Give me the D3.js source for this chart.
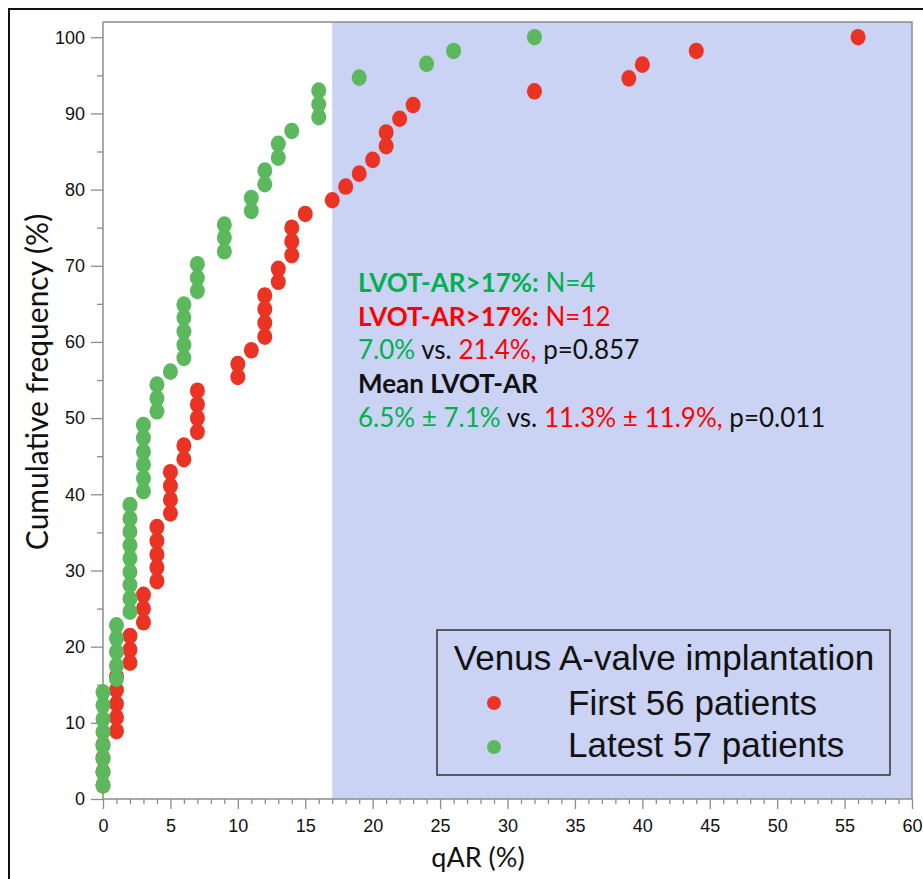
<!DOCTYPE html>
<html>
<head>
<meta charset="utf-8">
<script src="https://cdn.jsdelivr.net/npm/d3@7/dist/d3.min.js"></script>
<style>
body { margin: 0; background: #fff; }
</style>
</head>
<body>
<svg id="chart" width="923" height="879"></svg>
<script>
// first 56 patients: qAR per patient and cumulative frequency (%)
var redQAR = [0,0,0,0,1,1,1,1,1,2,2,2,3,3,3,4,4,4,4,4,5,5,5,5,6,6,7,7,7,7,
	10,10,11,12,12,12,12,13,13,14,14,14,15,17,18,19,20,21,21,22,23,32,39,40,44,56];
var redCum = [1.8,3.6,5.4,7.1,8.9,10.7,12.5,14.3,16.1,17.9,19.6,21.4,23.2,25.0,26.8,
	28.6,30.4,32.1,33.9,35.7,37.5,39.3,41.1,42.9,44.6,46.4,48.2,50.0,51.8,53.6,55.4,57.1,
	58.9,60.7,62.5,64.3,66.1,67.9,69.6,71.4,73.2,75.0,76.8,78.6,80.4,82.1,83.9,85.7,87.5,
	89.3,91.1,92.9,94.6,96.4,98.2,100];

// latest 57 patients
var greenQAR = [0,0,0,0,0,0,0,0,1,1,1,1,1,2,2,2,2,2,2,2,2,2,3,3,3,3,3,3,4,4,4,5,
	6,6,6,6,6,7,7,7,9,9,9,11,11,12,12,13,13,14,16,16,16,19,24,26,32];
var greenCum = [1.8,3.5,5.3,7.0,8.8,10.5,12.3,14.0,15.8,17.5,19.3,21.1,22.8,24.6,26.3,
	28.1,29.8,31.6,33.3,35.1,36.8,38.6,40.4,42.1,43.9,45.6,47.4,49.1,50.9,52.6,54.4,56.1,
	57.9,59.6,61.4,63.2,64.9,66.7,68.4,70.2,71.9,73.7,75.4,77.2,78.9,80.7,82.5,84.2,86.0,
	87.7,89.5,91.2,93.0,94.7,96.5,98.2,100];

var xTicks = [0,5,10,15,20,25,30,35,40,45,50,55,60];
var xMinor = d3.range(0, 61, 1);
var yTicks = [0,10,20,30,40,50,60,70,80,90,100];
var yMinor = [5,15,25,35,45,55,65,75,85,95];
var cutoff = 17;

var legendTitle = 'Venus A-valve implantation';
var legendLabels = ['First 56 patients', 'Latest 57 patients'];

var redColor = '#ea3323';
var greenColor = '#5cb85c';
var textGreen = '#00b050';
var textRed = '#ff0000';

var svg = d3.select('#chart');

var x = d3.scaleLinear().domain([0, 60]).range([103, 912]);
var y = d3.scaleLinear().domain([0, 102]).range([799, 22]);

// outer frame of the figure
svg.append('rect')
  .attr('x', 9).attr('y', 9)
  .attr('width', 940).attr('height', 900)
  .attr('fill', 'none')
  .attr('stroke', '#111')
  .attr('stroke-width', 2);

// shaded region qAR > 17
svg.append('rect')
  .attr('x', x(cutoff))
  .attr('y', y(102))
  .attr('width', x(60) - x(cutoff))
  .attr('height', y(0) - y(102))
  .attr('fill', '#cad3f3');

// plot frame (top, right)
svg.append('path')
  .attr('d', 'M' + x(0) + ',' + y(102) + 'H' + x(60) + 'V' + y(0))
  .attr('fill', 'none')
  .attr('stroke', '#8c8c8c')
  .attr('stroke-width', 1.5);

// y axis
svg.append('g')
  .attr('transform', 'translate(' + x(0) + ',0)')
  .call(d3.axisLeft(y).tickValues(yTicks).tickSize(12).tickPadding(6));
svg.append('g')
  .attr('transform', 'translate(' + x(0) + ',0)')
  .call(d3.axisLeft(y).tickValues(yMinor).tickSize(6).tickFormat(''));

// x axis
svg.append('g')
  .attr('transform', 'translate(0,' + y(0) + ')')
  .call(d3.axisBottom(x).tickValues(xTicks).tickSize(10).tickPadding(10));
svg.append('g')
  .attr('transform', 'translate(0,' + y(0) + ')')
  .call(d3.axisBottom(x).tickValues(xMinor.filter(function(d) { return d % 5 != 0; })).tickSize(5).tickFormat(''));

svg.selectAll('.domain').remove();
svg.selectAll('.tick line').attr('stroke', '#8c8c8c').attr('stroke-width', 1.3);
svg.selectAll('.tick text')
  .attr('fill', '#111')
  .style('font-family', '"Liberation Sans", Arial, sans-serif')
  .style('font-size', '18px');

svg.append('line')
  .attr('x1', x(0)).attr('x2', x(0))
  .attr('y1', y(0)).attr('y2', y(102))
  .attr('stroke', '#8c8c8c').attr('stroke-width', 1.5);
svg.append('line')
  .attr('x1', x(0)).attr('x2', x(60))
  .attr('y1', y(0)).attr('y2', y(0))
  .attr('stroke', '#8c8c8c').attr('stroke-width', 1.5);

// axis titles
svg.append('text')
  .attr('transform', 'translate(48,382) rotate(-90)')
  .attr('text-anchor', 'middle')
  .style('font-family', 'Lato, sans-serif')
  .style('font-size', '30px')
  .attr('fill', '#111')
  .text('Cumulative frequency (%)');

svg.append('text')
  .attr('x', 478).attr('y', 867)
  .attr('text-anchor', 'middle')
  .style('font-family', 'Lato, sans-serif')
  .style('font-size', '27px')
  .attr('fill', '#111')
  .text('qAR (%)');

// dots
svg.append('g').selectAll('ellipse')
  .data(redQAR)
  .enter().append('ellipse')
  .attr('cx', function(d) { return x(d); })
  .attr('cy', function(d, i) { return y(redCum[i]); })
  .attr('rx', 7.5).attr('ry', 8.3)
  .attr('fill', redColor);

svg.append('g').selectAll('ellipse')
  .data(greenQAR)
  .enter().append('ellipse')
  .attr('cx', function(d) { return x(d); })
  .attr('cy', function(d, i) { return y(greenCum[i]); })
  .attr('rx', 7.5).attr('ry', 8.3)
  .attr('fill', greenColor);

// annotation
var notes = [
	[['LVOT-AR>17%:', textGreen, 'bold'], [' N=4', textGreen, 'normal']],
	[['LVOT-AR>17%:', textRed, 'bold'], [' N=12', textRed, 'normal']],
	[['7.0%', textGreen, 'normal'], [' vs. ', '#111', 'normal'], ['21.4%,', textRed, 'normal'], [' p=0.857', '#111', 'normal']],
	[['Mean LVOT-AR', '#111', 'bold']],
	[['6.5% \u00b1 7.1%', textGreen, 'normal'], [' vs. ', '#111', 'normal'], ['11.3% \u00b1 11.9%,', textRed, 'normal'], [' p=0.011', '#111', 'normal']]
];

var noteText = svg.append('g')
  .style('font-family', 'Lato, sans-serif')
  .style('font-size', '26px');

notes.forEach(function(line, i) {
	var t = noteText.append('text')
	  .attr('x', 358)
	  .attr('y', 292 + i * 33.7)
	  .attr('xml:space', 'preserve');
	line.forEach(function(p) {
		t.append('tspan')
		  .attr('fill', p[1])
		  .style('font-weight', p[2])
		  .text(p[0]);
	});
});

// legend
var legend = svg.append('g')
  .style('font-family', '"Liberation Sans", Arial, sans-serif')
  .style('font-size', '35px');

legend.append('rect')
  .attr('x', 437).attr('y', 630)
  .attr('width', 453).attr('height', 145)
  .attr('fill', 'none')
  .attr('stroke', '#333')
  .attr('stroke-width', 1.5);

legend.append('text')
  .attr('x', 664).attr('y', 670)
  .attr('text-anchor', 'middle')
  .attr('fill', '#111')
  .text(legendTitle);

legend.selectAll('.item')
  .data(legendLabels)
  .enter().append('circle')
  .attr('cx', 494)
  .attr('cy', function(d, i) { return 703 + i * 44; })
  .attr('r', 7)
  .attr('fill', function(d, i) { return i == 0 ? redColor : greenColor; });

legend.selectAll('.label')
  .data(legendLabels)
  .enter().append('text')
  .attr('x', 568)
  .attr('y', function(d, i) { return 715 + i * 42; })
  .attr('fill', '#111')
  .text(function(d) { return d; });
</script>
</body>
</html>
